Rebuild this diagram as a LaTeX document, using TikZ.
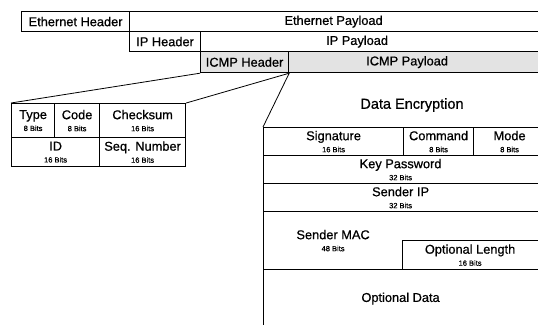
\documentclass[tikz,border=0pt]{standalone}
\usepackage{fontspec}
\setmainfont{Liberation Sans}[FakeBold=0.7]
\newcommand\fld[2]{#1\\[-1.5pt]{\fontsize{7.5}{8}\selectfont #2}}

\begin{document}
\begin{tikzpicture}[x=1pt,y=-1pt,
  field/.style={draw,line width=1.2pt,anchor=north west,inner sep=0pt,align=center,font=\fontsize{12.8}{13.5}\selectfont},
  shaded/.style={field,fill=black!11},
  txt/.style={align=center,font=\fontsize{12.8}{13.5}\selectfont}]
\useasboundingbox (0,0) rectangle (538,324);
% frame layers
\node[field,minimum width=108pt,minimum height=20pt](ethh) at (21,11){Ethernet Header};
\node[field,minimum width=416pt,minimum height=20pt,label={[txt,xshift=-4pt]center:Ethernet Payload}](ethp) at (129,11){};
\node[field,minimum width=71pt,minimum height=20pt](iph) at (129,31){IP Header};
\node[field,minimum width=345pt,minimum height=20pt,label={[txt,xshift=-16pt]center:IP Payload}](ipp) at (200,31){};
\node[shaded,minimum width=88pt,minimum height=21pt](icmph) at (200,51){ICMP Header};
\node[shaded,minimum width=257pt,minimum height=21pt,label={[txt,xshift=-10pt]center:ICMP Payload}](icmpp) at (288,51){};
% icmp header
\node[field,minimum width=43pt,minimum height=34pt](type) at (11,103){\fld{Type}{8 Bits}};
\node[field,minimum width=45pt,minimum height=34pt](code) at (54,103){\fld{Code}{8 Bits}};
\node[field,minimum width=86pt,minimum height=34pt](chk) at (99,103){\fld{Checksum}{16 Bits}};
\node[field,minimum width=88pt,minimum height=29pt](id) at (11,137){\fld{ID}{16 Bits}};
\node[field,minimum width=86pt,minimum height=29pt](seq) at (99,137){\fld{Seq. Number}{16 Bits}};
% icmp payload
\node[font=\fontsize{14.5}{15}\selectfont](enc) at (412,105){Data Encryption};
\node[field,minimum width=140pt,minimum height=28pt](sig) at (263,127){\fld{Signature}{16 Bits}};
\node[field,minimum width=70pt,minimum height=28pt](cmd) at (403,127){\fld{Command}{8 Bits}};
\node[field,minimum width=72pt,minimum height=28pt,xshift=-4pt](mode) at (477,127){\fld{Mode}{8 Bits}};
\node[field,minimum width=282pt,minimum height=28pt,label={[txt,xshift=-4pt]center:\fld{Key Password}{32 Bits}}](key) at (263,155){};
\node[field,minimum width=282pt,minimum height=28pt,label={[txt,xshift=-4pt]center:\fld{Sender IP}{32 Bits}}](sip) at (263,183){};
\node[field,minimum width=282pt,minimum height=58pt](macrow) at (263,211){};
\node[field,draw=none,minimum width=139pt,minimum height=58pt](mac) at (263,211){\fld{Sender MAC}{48 Bits}};
\node[field,minimum width=143pt,minimum height=29pt,label={[txt,xshift=-4pt]center:\fld{Optional Length}{16 Bits}}](optlen) at (402,240){};
\node[field,minimum width=282pt,minimum height=58pt,label={[txt,xshift=-4pt]center:Optional Data}](opt) at (263,269){};
% zoom lines
\draw[line width=.8pt] (icmph.south west)--(type.north west);
\draw[line width=.8pt] (icmph.south east)--(chk.north east);
\draw[line width=.8pt] (icmph.south east)--(sig.north west);
\end{tikzpicture}
\end{document}
